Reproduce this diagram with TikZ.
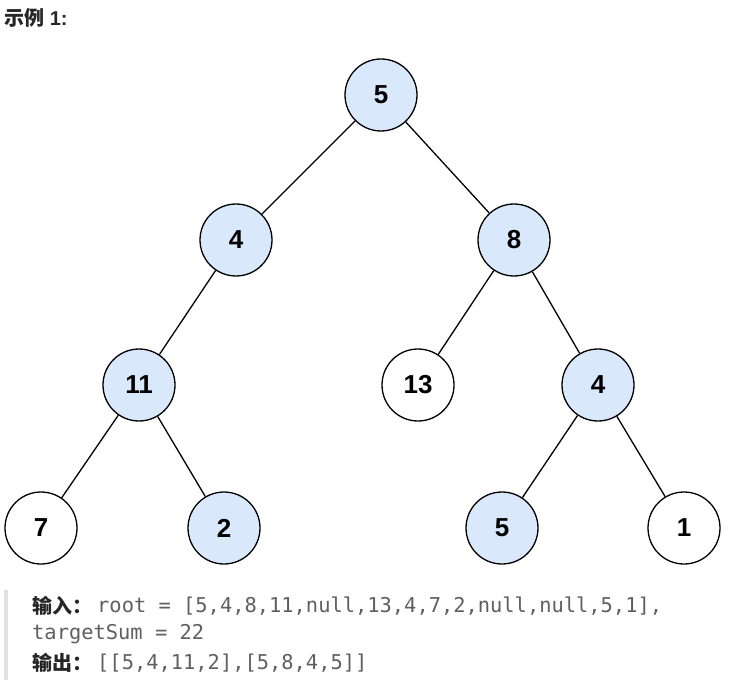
\documentclass[tikz,border=0pt]{standalone}
\usepackage{fontspec}
\usepackage{xcolor}
\usepackage{tikz}
\setmainfont{Liberation Sans}
\newfontfamily\cjk{Noto Sans CJK SC}
\newfontfamily\codefont{DejaVu Sans Mono}
\definecolor{nodeblue}{RGB}{218,232,252}
\definecolor{codegray}{RGB}{95,95,95}
\definecolor{textdark}{RGB}{38,38,38}
\definecolor{quotebar}{RGB}{225,225,225}

\begin{document}
\begin{tikzpicture}[x=1pt,y=-1pt,
  treenode/.style={circle,draw=black,line width=1.3pt,fill=white,minimum size=72pt,inner sep=0pt,font=\fontsize{26}{28}\selectfont\bfseries},
  pathnode/.style={treenode,fill=nodeblue},
  edge/.style={draw=black,line width=1.3pt},
  label/.style={anchor=west,inner sep=0pt,text=textdark,font=\fontsize{20}{22}\selectfont\bfseries},
  code/.style={anchor=west,inner sep=0pt,text=codegray,font=\fontsize{20.4}{22}\selectfont\codefont}
]
\useasboundingbox (0,0) rectangle (733,684);
\node[label] (title) at (4,18) {{\cjk 示例} 1:};
\node[pathnode] (n5) at (381,95) {5};
\node[pathnode] (n4) at (236,240) {4};
\node[pathnode] (n8) at (514,240) {8};
\node[pathnode] (n11) at (139,385) {11};
\node[treenode] (n13) at (418,385) {13};
\node[pathnode] (n4b) at (598,385) {4};
\node[treenode] (n7) at (41,528) {7};
\node[pathnode] (n2) at (224,528) {2};
\node[pathnode] (n5b) at (502,528) {5};
\node[treenode] (n1) at (684,528) {1};
\draw[edge] (n5) -- (n4); \draw[edge] (n5) -- (n8);
\draw[edge] (n4) -- (n11);
\draw[edge] (n8) -- (n13); \draw[edge] (n8) -- (n4b);
\draw[edge] (n11) -- (n7); \draw[edge] (n11) -- (n2);
\draw[edge] (n4b) -- (n5b); \draw[edge] (n4b) -- (n1);
% example input and output
\fill[quotebar] (4,590) rectangle (8,680);
\node[label] (inlabel) at (32,606) {\cjk 输入：};
\node[code] (incode) at (97,606) {root = [5,4,8,11,null,13,4,7,2,null,null,5,1],};
\node[code] (target) at (32,634) {targetSum = 22};
\node[label] (outlabel) at (32,663) {\cjk 输出：};
\node[code] (outcode) at (97,663) {[[5,4,11,2],[5,8,4,5]]};
\end{tikzpicture}
\end{document}
